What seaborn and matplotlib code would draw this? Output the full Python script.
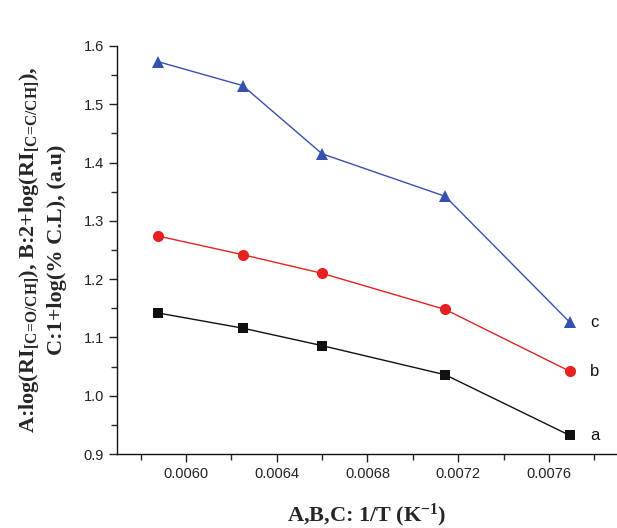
import matplotlib
matplotlib.use("Agg")
import matplotlib.pyplot as plt
from matplotlib.ticker import MultipleLocator
import numpy as np
import pandas as pd
import seaborn as sns

# %%
inv_T = [0.005877, 0.00625, 0.0066, 0.007143, 0.007692]
series_a = [1.142, 1.116, 1.086, 1.036, 0.932]
series_b = [1.274, 1.242, 1.210, 1.148, 1.042]
series_c = [1.573, 1.532, 1.415, 1.342, 1.126]
series_names = ["a", "b", "c"]
x_ticks = [0.0060, 0.0064, 0.0068, 0.0072, 0.0076]

# %%
sns.set_style("ticks")
plt.rcParams["font.family"] = ["Liberation Sans", "DejaVu Sans"]
plt.rcParams["mathtext.fontset"] = "custom"
plt.rcParams["mathtext.rm"] = "Liberation Serif:bold"
plt.rcParams["mathtext.it"] = "Liberation Serif:bold"
plt.rcParams["mathtext.bf"] = "Liberation Serif:bold"

df = pd.DataFrame({
    "x": inv_T * 3,
    "y": series_a + series_b + series_c,
    "s": np.repeat(series_names, len(inv_T)),
})

colors = {"a": "#111111", "b": "#e82020", "c": "#3650b0"}
markers = {"a": "s", "b": "o", "c": "^"}
msize = {"a": 7, "b": 8, "c": 9}

fig = plt.figure(figsize=(6.17, 5.28), dpi=100)
ax = fig.add_axes([0.19, 0.14, 0.81, 0.773])

for name in series_names:
    sub = df[df["s"] == name]
    sns.lineplot(data=sub, x="x", y="y", ax=ax, color=colors[name],
                 marker=markers[name], markersize=msize[name],
                 markeredgewidth=0, linewidth=1.0, legend=False)
    ax.text(sub["x"].iloc[-1] + 0.00009, sub["y"].iloc[-1], name,
            fontsize=12, va="center", ha="left", color="#111111")

ax.set_xlim(0.005697, 0.0079)
ax.set_ylim(0.9, 1.6)
ax.set_xticks(x_ticks)
ax.set_xticklabels([f"{v:.4f}" for v in x_ticks])
ax.xaxis.set_minor_locator(MultipleLocator(0.0002))
ax.yaxis.set_major_locator(MultipleLocator(0.1))
ax.yaxis.set_minor_locator(MultipleLocator(0.05))
ax.tick_params(which="major", length=6, width=1, labelsize=10.5, colors="#222222")
ax.tick_params(which="minor", length=4, width=1)
sns.despine(ax=ax)
for sp in ["left", "bottom"]:
    ax.spines[sp].set_linewidth(1.0)
    ax.spines[sp].set_color("#111111")

eq = r"\!=\!"
ax.set_xlabel(r"A,B,C: 1/T (K$^{-1}$)", fontsize=16,
              fontweight="bold", family="Liberation Serif", labelpad=15)
ax.set_ylabel(f"A:log(RI$_{{[C{eq}O/CH]}}$), B:2+log(RI$_{{[C{eq}C/CH]}}$),\n"
              "C:1+log(% C.L), (a.u)", fontsize=16, fontweight="bold",
              family="Liberation Serif", labelpad=12, linespacing=1.4)

plt.savefig("out.png", dpi=100)
